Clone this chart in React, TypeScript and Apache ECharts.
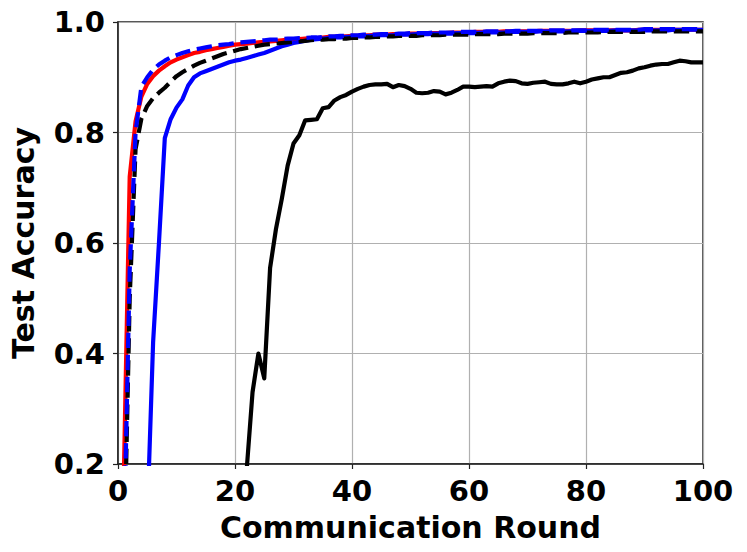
import React, { useEffect, useRef } from "react";
import * as echarts from "echarts";

const rounds: number[] = Array.from({ length: 100 }, (_, i) => i + 1);

const redSolid: (number | null)[] = [
  0.18, 0.72, 0.82, 0.865, 0.888, 0.902, 0.912, 0.92, 0.927, 0.932,
  0.936, 0.94, 0.944, 0.946, 0.949, 0.951, 0.953, 0.955, 0.957, 0.959,
  0.96, 0.961, 0.962, 0.963, 0.964, 0.965, 0.966, 0.967, 0.968, 0.968,
  0.969, 0.97, 0.971, 0.971, 0.972, 0.973, 0.973, 0.974, 0.974, 0.975,
  0.975, 0.976, 0.976, 0.977, 0.977, 0.977, 0.978, 0.978, 0.978, 0.979,
  0.979, 0.979, 0.98, 0.98, 0.98, 0.98, 0.981, 0.981, 0.981, 0.981,
  0.982, 0.982, 0.982, 0.982, 0.982, 0.983, 0.983, 0.983, 0.983, 0.983,
  0.983, 0.984, 0.984, 0.984, 0.984, 0.984, 0.984, 0.984, 0.985, 0.985,
  0.985, 0.985, 0.985, 0.985, 0.985, 0.985, 0.985, 0.985, 0.986, 0.986,
  0.986, 0.986, 0.986, 0.986, 0.986, 0.986, 0.986, 0.986, 0.986, 0.986,
];

const blueSolid: (number | null)[] = [
  null, null, null, null, 0.1, 0.42, 0.6, 0.79, 0.824, 0.845,
  0.86, 0.885, 0.9, 0.907, 0.911, 0.915, 0.919, 0.923, 0.927, 0.93,
  0.932, 0.935, 0.938, 0.941, 0.944, 0.948, 0.952, 0.956, 0.959, 0.962,
  0.964, 0.966, 0.968, 0.969, 0.97, 0.971, 0.972, 0.972, 0.973, 0.973,
  0.974, 0.974, 0.975, 0.975, 0.976, 0.976, 0.976, 0.977, 0.977, 0.977,
  0.978, 0.978, 0.978, 0.979, 0.979, 0.979, 0.979, 0.98, 0.98, 0.98,
  0.98, 0.981, 0.981, 0.981, 0.981, 0.981, 0.982, 0.982, 0.982, 0.982,
  0.982, 0.983, 0.983, 0.983, 0.983, 0.983, 0.983, 0.984, 0.984, 0.984,
  0.984, 0.984, 0.984, 0.984, 0.985, 0.985, 0.985, 0.985, 0.985, 0.985,
  0.985, 0.985, 0.985, 0.985, 0.986, 0.986, 0.986, 0.986, 0.986, 0.986,
];

const blackSolid: (number | null)[] = [
  null, null, null, null, null, null, null, null, null, null,
  null, null, null, null, null, null, null, null, null, null,
  0.08, 0.19, 0.33, 0.4, 0.355, 0.555, 0.625, 0.68, 0.74, 0.78,
  0.795, 0.822, 0.823, 0.824, 0.844, 0.846, 0.858, 0.864, 0.868, 0.874,
  0.879, 0.883, 0.886, 0.887, 0.887, 0.888, 0.882, 0.886, 0.884, 0.879,
  0.872, 0.871, 0.872, 0.875, 0.874, 0.869, 0.872, 0.877, 0.883, 0.883,
  0.882, 0.883, 0.884, 0.883, 0.889, 0.892, 0.894, 0.893, 0.889, 0.888,
  0.89, 0.891, 0.892, 0.888, 0.887, 0.887, 0.889, 0.892, 0.889, 0.892,
  0.896, 0.898, 0.9, 0.9, 0.904, 0.908, 0.909, 0.912, 0.916, 0.918,
  0.921, 0.923, 0.924, 0.924, 0.927, 0.93, 0.929, 0.927, 0.927, 0.927,
];

const blackDashed: (number | null)[] = [
  0.0, 0.5, 0.77, 0.825, 0.848, 0.862, 0.872, 0.881, 0.892, 0.902,
  0.909, 0.915, 0.921, 0.926, 0.93, 0.934, 0.938, 0.942, 0.945, 0.948,
  0.951, 0.953, 0.955, 0.957, 0.959, 0.96, 0.961, 0.962, 0.963, 0.964,
  0.965, 0.966, 0.967, 0.968, 0.968, 0.969, 0.969, 0.97, 0.97, 0.971,
  0.971, 0.972, 0.972, 0.973, 0.973, 0.974, 0.974, 0.975, 0.975, 0.975,
  0.975, 0.976, 0.976, 0.976, 0.976, 0.977, 0.977, 0.977, 0.977, 0.977,
  0.978, 0.978, 0.978, 0.978, 0.978, 0.979, 0.979, 0.979, 0.979, 0.979,
  0.98, 0.98, 0.98, 0.98, 0.98, 0.98, 0.981, 0.981, 0.981, 0.981,
  0.981, 0.981, 0.982, 0.982, 0.982, 0.982, 0.982, 0.982, 0.982, 0.982,
  0.983, 0.983, 0.983, 0.983, 0.983, 0.983, 0.983, 0.983, 0.983, 0.983,
];

const blueDashed: (number | null)[] = [
  0.05, 0.55, 0.8, 0.883, 0.9, 0.914, 0.923, 0.93, 0.936, 0.94,
  0.944, 0.947, 0.95, 0.952, 0.954, 0.956, 0.958, 0.959, 0.96, 0.962,
  0.963, 0.964, 0.965, 0.966, 0.967, 0.968, 0.968, 0.969, 0.97, 0.97,
  0.971, 0.971, 0.972, 0.972, 0.973, 0.974, 0.974, 0.975, 0.975, 0.976,
  0.976, 0.977, 0.977, 0.977, 0.978, 0.978, 0.978, 0.979, 0.979, 0.98,
  0.98, 0.98, 0.98, 0.981, 0.981, 0.981, 0.981, 0.982, 0.982, 0.982,
  0.982, 0.982, 0.983, 0.983, 0.983, 0.983, 0.983, 0.984, 0.984, 0.984,
  0.984, 0.984, 0.984, 0.985, 0.985, 0.985, 0.985, 0.985, 0.985, 0.985,
  0.986, 0.986, 0.986, 0.986, 0.986, 0.986, 0.986, 0.986, 0.986, 0.987,
  0.987, 0.987, 0.987, 0.987, 0.987, 0.987, 0.987, 0.987, 0.987, 0.987,
];

const xTicks = { min: 0, max: 100, interval: 20 };
const yTicks = { min: 0.2, max: 1.0, interval: 0.2 };

const FONT = "'DejaVu Sans', sans-serif";

function pairs(vals: (number | null)[]) {
  return rounds.map((r, i) => [r, vals[i] === null ? null : vals[i]]);
}

export default function App() {
  const ref = useRef<HTMLDivElement>(null);
  useEffect(() => {
    if (!ref.current) return;
    const chart = echarts.init(ref.current, undefined, { renderer: "svg" });
    const lw = 4.2;
    const mk = (name: string, vals: (number | null)[], color: string, dashed: boolean) => ({
      name,
      type: "line",
      data: pairs(vals),
      showSymbol: false,
      symbol: "none",
      clip: true,
      connectNulls: false,
      lineStyle: {
        color,
        width: lw,
        type: dashed ? [15.4, 6.7] : "solid",
        cap: "butt",
        join: "round",
      },
    });
    chart.setOption({
      animation: false,
      backgroundColor: "#ffffff",
      grid: {
        left: 112,
        right: 44,
        top: 22,
        bottom: 88,
        show: true,
        borderColor: "#222",
        borderWidth: 1.5,
        backgroundColor: "transparent",
      },
      xAxis: {
        type: "value",
        min: xTicks.min,
        max: xTicks.max,
        interval: xTicks.interval,
        name: "Communication Round",
        nameLocation: "middle",
        nameGap: 48,
        nameTextStyle: { fontFamily: FONT, fontWeight: "bold", fontSize: 30, color: "#000" },
        axisLine: { show: true, lineStyle: { color: "#222", width: 1.5 } },
        axisTick: { show: true, length: 5, inside: false, lineStyle: { color: "#222", width: 1.2 } },
        axisLabel: {
          fontFamily: FONT,
          fontWeight: "bold",
          fontSize: 29,
          color: "#000",
          margin: 12,
          formatter: (v: number) => String(Math.round(v)),
        },
        splitLine: { show: true, lineStyle: { color: "#b0b0b0", width: 1.2 } },
      },
      yAxis: {
        type: "value",
        min: yTicks.min,
        max: yTicks.max,
        interval: yTicks.interval,
        name: "Test Accuracy",
        nameLocation: "middle",
        nameGap: 80,
        nameTextStyle: { fontFamily: FONT, fontWeight: "bold", fontSize: 30, color: "#000" },
        axisLine: { show: true, lineStyle: { color: "#222", width: 1.5 } },
        axisTick: { show: true, length: 5, inside: false, lineStyle: { color: "#222", width: 1.2 } },
        axisLabel: {
          fontFamily: FONT,
          fontWeight: "bold",
          fontSize: 29,
          color: "#000",
          margin: 13,
          formatter: (v: number) => v.toFixed(1),
        },
        splitLine: { show: true, lineStyle: { color: "#b0b0b0", width: 1.2 } },
      },
      series: [
        mk("red", redSolid, "#ff0000", false),
        mk("blue", blueSolid, "#0000ff", false),
        mk("black", blackSolid, "#000000", false),
        mk("black dashed", blackDashed, "#000000", true),
        mk("blue dashed", blueDashed, "#0000ff", true),
      ],
    });
    return () => chart.dispose();
  }, []);
  return (
    <div
      ref={ref}
      style={{ position: "absolute", left: 0, top: 0, width: 747, height: 552 }}
    />
  );
}
